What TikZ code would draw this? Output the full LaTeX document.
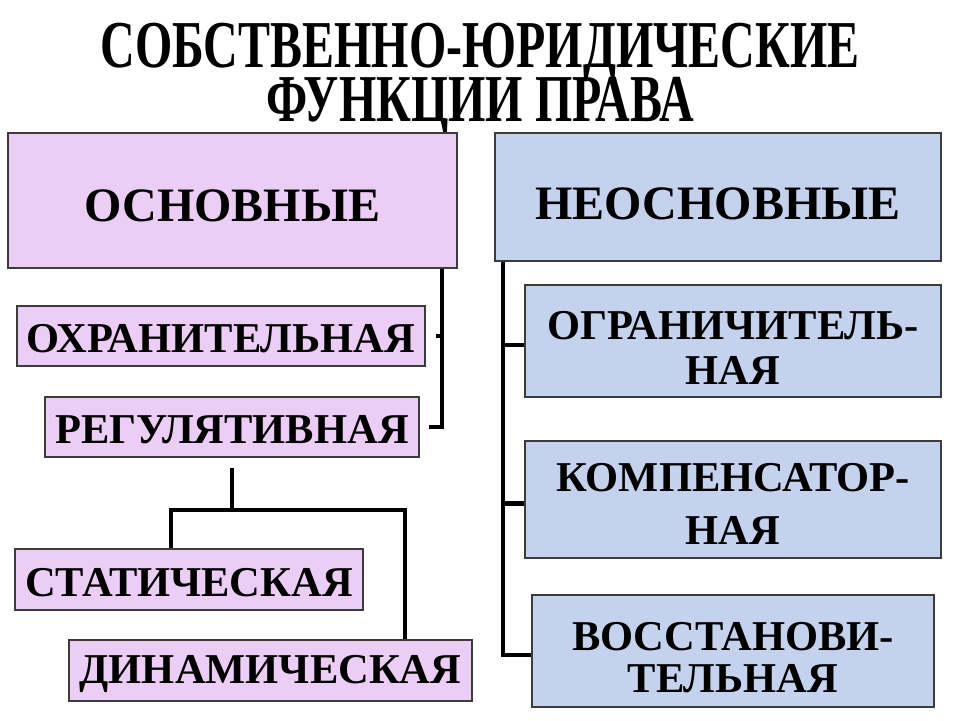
\documentclass[tikz,border=0pt]{standalone}
\usepackage{fontspec}
\setmainfont{Liberation Serif}
\usepackage{graphicx}
\definecolor{pinkfill}{RGB}{236,205,246}
\definecolor{bluefill}{RGB}{197,210,238}
\definecolor{boxline}{RGB}{60,60,60}
\begin{document}
\begin{tikzpicture}[x=1pt,y=-1pt,
  box/.style={draw=boxline,line width=1.8pt,inner sep=0pt},
  pbox/.style={box,fill=pinkfill},
  bbox/.style={box,fill=bluefill},
  txt/.style={inner sep=0pt,align=center,font=\fontsize{42.5}{45}\selectfont\bfseries},
  bigtxt/.style={txt,font=\fontsize{48}{50}\selectfont\bfseries},
  conn/.style={draw=black,line width=4.5pt},
  ttl/.style={inner sep=0pt,anchor=base,font=\fontsize{67}{68}\selectfont\bfseries}]
\useasboundingbox (0,0) rectangle (960,720);
\fill[white] (0,0) rectangle (960,720);
% title
\node[ttl] (t1) at (480,67) {\scalebox{0.716}[1]{СОБСТВЕННО-ЮРИДИЧЕСКИЕ}};
\node[ttl] (t2) at (480,121) {\scalebox{0.716}[1]{ФУНКЦИИ ПРАВА}};
% boxes
\node[pbox,minimum width=449pt,minimum height=135pt,
  label={[bigtxt,yshift=-5pt]center:ОСНОВНЫЕ}] (osn) at (232.5,200.5) {};
\node[bbox,minimum width=446pt,minimum height=128pt,
  label={[bigtxt,yshift=-7pt]center:НЕОСНОВНЫЕ}] (neo) at (718,197) {};
\node[pbox,minimum width=408pt,minimum height=60pt,
  label={[txt,yshift=-3pt]center:ОХРАНИТЕЛЬНАЯ}] (ohr) at (221,336) {};
\node[pbox,minimum width=374pt,minimum height=60pt,
  label={[txt,yshift=-3pt]center:РЕГУЛЯТИВНАЯ}] (reg) at (232,427) {};
\node[pbox,minimum width=348pt,minimum height=61pt,
  label={[txt,yshift=-3pt]center:СТАТИЧЕСКАЯ}] (stat) at (189,579.5) {};
\node[pbox,minimum width=403pt,minimum height=61pt,
  label={[txt,yshift=-3pt]center:ДИНАМИЧЕСКАЯ}] (din) at (270.5,670.5) {};
\node[bbox,minimum width=416pt,minimum height=112pt,
  label={[txt,yshift=-7pt]center:ОГРАНИЧИТЕЛЬ-\\НАЯ}] (ogr) at (733,341) {};
\node[bbox,minimum width=416pt,minimum height=117pt,
  label={[txt,font=\fontsize{42.5}{53}\selectfont\bfseries,yshift=-4pt]center:КОМПЕНСАТОР-\\НАЯ}] (komp) at (733,499.5) {};
\node[bbox,minimum width=402pt,minimum height=112pt,
  label={[txt,font=\fontsize{42.5}{42}\selectfont\bfseries,yshift=-7pt]center:ВОССТАНОВИ-\\ТЕЛЬНАЯ}] (vost) at (733,651) {};
% left connectors
\coordinate (tl) at (442,428);
\draw[conn] (osn.south -| tl) |- ([xshift=9pt]reg.east);
\draw[conn] ([xshift=10pt]ohr.east) -- (ohr.east -| tl);
\coordinate (sl) at (171,510);
\coordinate (sr) at (405,510);
\draw[conn] ([yshift=-10pt]reg.south) -- (reg.south |- sl);
\draw[conn] (stat.north -| sl) -- (sl) -- (sr) -- (din.north -| sr);
% right connectors
\coordinate (tr) at (503,0);
\draw[conn] (neo.south -| tr) |- ([yshift=-4pt]vost.west);
\draw[conn] ([yshift=-4pt]ogr.west -| tr) -- ([yshift=-4pt]ogr.west);
\draw[conn] ([yshift=-4pt]komp.west -| tr) -- ([yshift=-4pt]komp.west);
\end{tikzpicture}
\end{document}
